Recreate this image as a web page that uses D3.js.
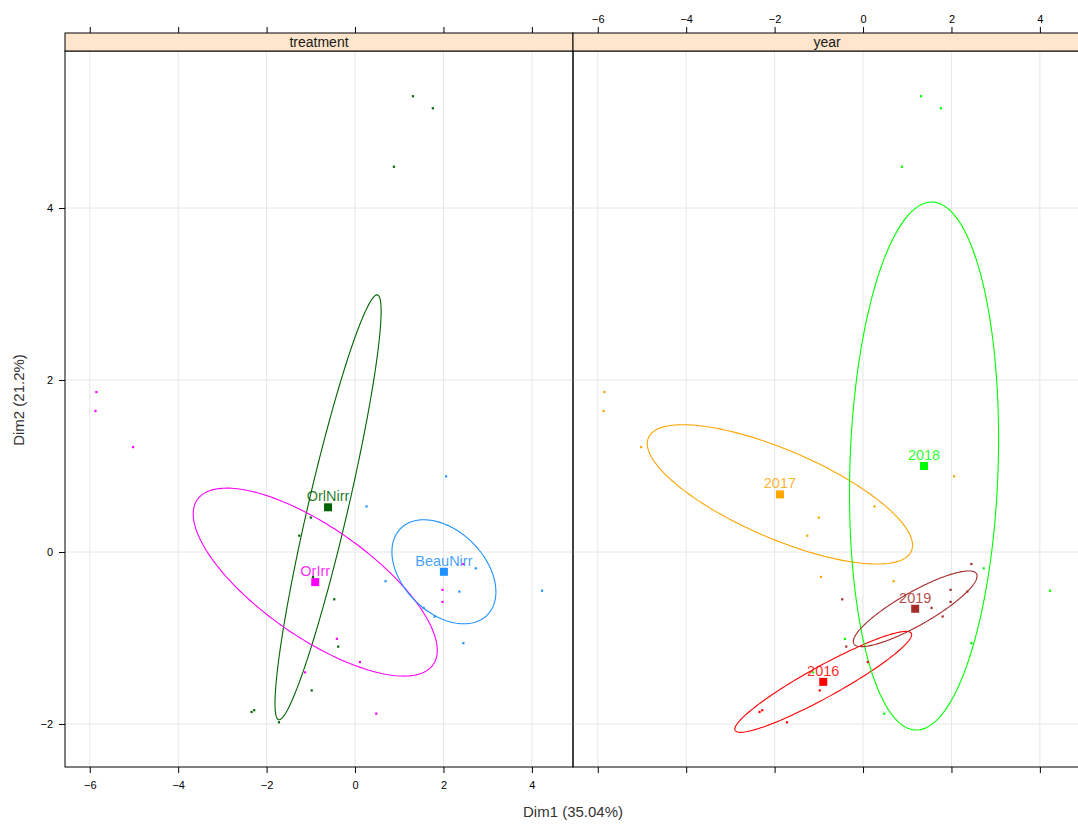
<!DOCTYPE html>
<html><head><meta charset="utf-8">
<script src="https://cdn.jsdelivr.net/npm/d3@7"></script>
<style>
html,body{margin:0;padding:0;background:#fff;}
svg{display:block;font-family:"Liberation Sans",Arial,sans-serif;}
</style></head>
<body><svg id="chart" width="1078" height="825"></svg>
<script>
// ---------- data ----------
const panelNames = ["treatment", "year"];
const xTicks = [-6, -4, -2, 0, 2, 4];
const yTicks = [-2, 0, 2, 4];
const xDomain = [-6.56, 4.93];
const yDomain = [-2.5, 5.826];
const xTitle = "Dim1 (35.04%)";
const yTitle = "Dim2 (21.2%)";

// individuals
const pointX = [1.31, 1.76, 0.88, -5.85, -5.87, -5.02, 2.06, 0.26, -1.00, -1.26, -0.95, 0.69, 2.73, 2.45, 1.98, 1.98, 2.36, 1.55, 1.80, -0.47, 4.23, -0.41, -0.38, 2.45, 0.11, -1.13, -0.98, -2.34, -2.28, 0.48, -1.72];
const pointY = [5.30, 5.16, 4.48, 1.86, 1.64, 1.22, 0.88, 0.53, 0.40, 0.19, -0.29, -0.34, -0.19, -0.14, -0.44, -0.58, -0.46, -0.65, -0.75, -0.55, -0.45, -1.01, -1.10, -1.06, -1.28, -1.40, -1.61, -1.86, -1.84, -1.88, -1.98];
const pointTreatment = ["OrlNirr","OrlNirr","OrlNirr","OrIrr","OrIrr","OrIrr","BeauNirr","BeauNirr","OrlNirr","OrlNirr","OrlNirr","BeauNirr","BeauNirr","OrIrr","OrIrr","OrIrr","BeauNirr","BeauNirr","BeauNirr","OrlNirr","BeauNirr","OrIrr","OrlNirr","BeauNirr","OrIrr","OrIrr","OrlNirr","OrlNirr","OrlNirr","OrIrr","OrlNirr"];
const pointYear = ["2018","2018","2018","2017","2017","2017","2017","2017","2017","2017","2017","2017","2018","2019","2019","2019","2019","2019","2019","2019","2018","2018","2019","2018","2016","2018","2016","2016","2016","2018","2016"];

// groups: treatment panel
const treatmentLevels = ["OrlNirr", "OrIrr", "BeauNirr"];
const treatmentColors = ["#006400", "#ff00ff", "#1e90ff"];
const treatmentCentroidX = [-0.61, -0.90, 2.01];
const treatmentCentroidY = [0.52, -0.35, -0.23];
const treatmentEllipseHx = [1.20, 2.76, 1.176];
const treatmentEllipseHy = [2.47, 1.093, 0.605];
const treatmentEllipseR = [0.923, -0.725, -0.385];

// groups: year panel
const yearLevels = ["2016", "2017", "2018", "2019"];
const yearColors = ["#ff0000", "#ffa500", "#00ff00", "#a52a2a"];
const yearCentroidX = [-0.90, -1.88, 1.38, 1.18];
const yearCentroidY = [-1.51, 0.67, 1.00, -0.66];
const yearEllipseHx = [2.00, 3.00, 1.686, 1.40];
const yearEllipseHy = [0.587, 0.81, 3.07, 0.44];
const yearEllipseR = [0.936, -0.730, 0.103, 0.864];

// ---------- layout ----------
const svg = d3.select("#chart");
const panelTop = 51, panelBottom = 767, stripTop = 33;
const panelLefts = [65, 573];
const panelW = 508;
const y = d3.scaleLinear().domain(yDomain).range([panelBottom, panelTop]);

const panels = [
  {name: panelNames[0], levels: treatmentLevels, colors: treatmentColors, cx: treatmentCentroidX, cy: treatmentCentroidY,
   hx: treatmentEllipseHx, hy: treatmentEllipseHy, r: treatmentEllipseR, key: pointTreatment},
  {name: panelNames[1], levels: yearLevels, colors: yearColors, cx: yearCentroidX, cy: yearCentroidY,
   hx: yearEllipseHx, hy: yearEllipseHy, r: yearEllipseR, key: pointYear}
];

panels.forEach((p, pi) => {
  const x0 = panelLefts[pi];
  const x = d3.scaleLinear().domain(xDomain).range([x0, x0 + panelW]);
  const g = svg.append("g");
  const clipId = "clip" + pi;
  svg.append("clipPath").attr("id", clipId).append("rect")
    .attr("x", x0).attr("y", panelTop).attr("width", panelW).attr("height", panelBottom - panelTop);
  const body = g.append("g").attr("clip-path", `url(#${clipId})`);

  // grid
  body.selectAll(".gx").data(xTicks).enter().append("line")
    .attr("x1", d => x(d)).attr("x2", d => x(d)).attr("y1", panelTop).attr("y2", panelBottom)
    .attr("stroke", "#e6e6e6").attr("stroke-width", 1);
  body.selectAll(".gy").data(yTicks).enter().append("line")
    .attr("x1", x0).attr("x2", x0 + panelW).attr("y1", d => y(d)).attr("y2", d => y(d))
    .attr("stroke", "#e6e6e6").attr("stroke-width", 1);

  // ellipses
  const line = d3.line();
  p.levels.forEach((lev, i) => {
    const pts = d3.range(0, 201).map(k => {
      const t = k / 200 * 2 * Math.PI;
      const dx = p.hx[i] * Math.cos(t);
      const dy = p.hy[i] * (p.r[i] * Math.cos(t) + Math.sqrt(1 - p.r[i] * p.r[i]) * Math.sin(t));
      return [x(p.cx[i] + dx), y(p.cy[i] + dy)];
    });
    body.append("path").attr("d", line(pts)).attr("fill", "none")
      .attr("stroke", p.colors[i]).attr("stroke-width", 1.1);
  });

  // points
  body.selectAll(".pt").data(pointX.map((v, i) => i)).enter().append("rect")
    .attr("x", i => x(pointX[i]) - 1.1).attr("y", i => y(pointY[i]) - 1.1)
    .attr("width", 2.2).attr("height", 2.2)
    .attr("fill", i => p.colors[p.levels.indexOf(p.key[i])]);

  // centroids + labels
  p.levels.forEach((lev, i) => {
    body.append("rect").attr("x", x(p.cx[i]) - 4).attr("y", y(p.cy[i]) - 4)
      .attr("width", 8).attr("height", 8).attr("fill", p.colors[i]);
    body.append("text").attr("x", x(p.cx[i])).attr("y", y(p.cy[i]) - 6)
      .attr("text-anchor", "middle").attr("font-size", 14.5)
      .attr("fill", p.colors[i]).attr("fill-opacity", 0.85).text(lev);
  });

  // border
  g.append("rect").attr("x", x0).attr("y", panelTop).attr("width", panelW).attr("height", panelBottom - panelTop)
    .attr("fill", "none").attr("stroke", "#000").attr("stroke-width", 1);

  // strip
  g.append("rect").attr("x", x0).attr("y", stripTop).attr("width", panelW).attr("height", panelTop - stripTop)
    .attr("fill", "#ffe5cc").attr("stroke", "#000").attr("stroke-width", 1);
  g.append("text").attr("x", x0 + panelW / 2).attr("y", panelTop - 4.5)
    .attr("text-anchor", "middle").attr("font-size", 14).attr("fill", "#1a1a1a").text(p.name);

  // top axis (ticks; labels only on second panel)
  const top = d3.axisTop(x).tickValues(xTicks).tickSize(6).tickPadding(4)
    .tickFormat(pi === 1 ? d3.format("d") : () => "");
  const ga = svg.append("g").attr("transform", `translate(0,${stripTop})`).call(top);
  // bottom axis (labels only on first panel)
  const bot = d3.axisBottom(x).tickValues(xTicks).tickSize(6).tickPadding(8)
    .tickFormat(pi === 0 ? d3.format("d") : () => "");
  const gb = svg.append("g").attr("transform", `translate(0,${panelBottom})`).call(bot);
  [ga, gb].forEach(a => {
    a.select(".domain").remove();
    a.selectAll(".tick line").attr("stroke", "#000");
    a.selectAll(".tick text").attr("font-size", 11).attr("fill", "#000")
      .attr("font-family", "Liberation Sans, Arial, sans-serif");
  });
});

// left axis
const left = d3.axisLeft(y).tickValues(yTicks).tickSize(6).tickPadding(6).tickFormat(d3.format("d"));
const gl = svg.append("g").attr("transform", `translate(${panelLefts[0]},0)`).call(left);
gl.select(".domain").remove();
gl.selectAll(".tick line").attr("stroke", "#000");
gl.selectAll(".tick text").attr("font-size", 11).attr("fill", "#000")
  .attr("font-family", "Liberation Sans, Arial, sans-serif");

// axis titles
svg.append("text").attr("x", (panelLefts[0] + panelLefts[1] + panelW) / 2).attr("y", 817)
  .attr("text-anchor", "middle").attr("font-size", 15).attr("fill", "#333").text(xTitle);
svg.append("text").attr("transform", `translate(24,${(stripTop + panelBottom) / 2}) rotate(-90)`)
  .attr("text-anchor", "middle").attr("font-size", 15).attr("fill", "#333").text(yTitle);
</script>
</body></html>
